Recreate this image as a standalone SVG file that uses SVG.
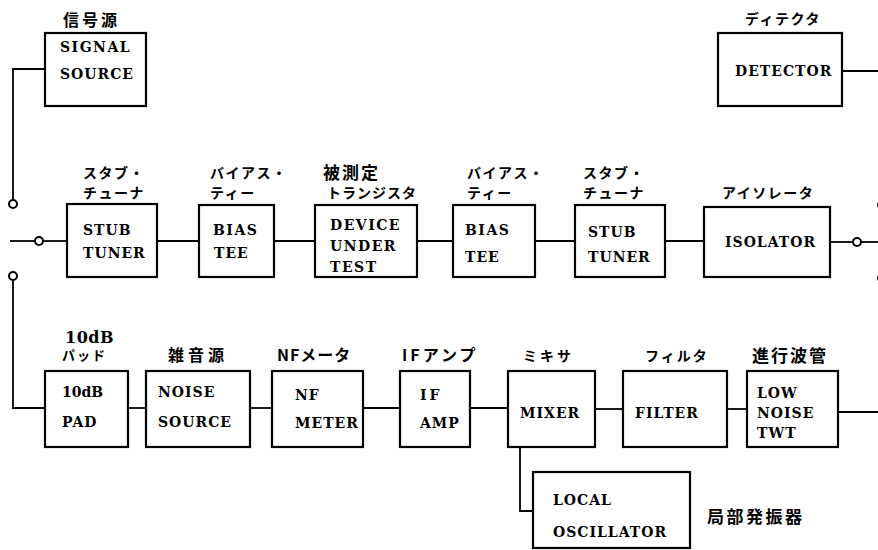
<svg xmlns="http://www.w3.org/2000/svg" width="878" height="550" viewBox="0 0 878 550">
<style>
.box{fill:#fff;stroke:#000;stroke-width:2.2}
.ln{fill:none;stroke:#000;stroke-width:1.8}
.sw{fill:#fff;stroke:#000;stroke-width:2}
.t{font-family:"DejaVu Serif","Liberation Serif",serif;font-weight:bold;font-size:14px;letter-spacing:1px;fill:#000}
.j{font-family:"Noto Sans CJK JP","Noto Sans",sans-serif;font-weight:bold;font-size:14px;letter-spacing:1.5px;fill:#000}
.jb{font-family:"Noto Sans CJK JP","Noto Sans",sans-serif;font-weight:bold;font-size:17px;letter-spacing:2px;fill:#000}
</style>
<rect width="878" height="550" fill="#fff"/>
<g id="connectors">
<polyline class="ln" points="45,69 13,69 13,200"/>
<line class="ln" x1="10" y1="241" x2="35" y2="241"/>
<line class="ln" x1="43" y1="241" x2="67" y2="241"/>
<line class="ln" x1="157" y1="241" x2="199" y2="241"/>
<line class="ln" x1="274" y1="241" x2="315" y2="241"/>
<line class="ln" x1="417" y1="241" x2="453" y2="241"/>
<line class="ln" x1="535" y1="241" x2="575" y2="241"/>
<line class="ln" x1="665" y1="241" x2="704" y2="241"/>
<line class="ln" x1="830" y1="242" x2="853" y2="242"/>
<line class="ln" x1="861" y1="242" x2="878" y2="242"/>
<line class="ln" x1="842" y1="71" x2="878" y2="71"/>
<polyline class="ln" points="13,280 13,408 45,408"/>
<line class="ln" x1="128" y1="408" x2="146" y2="408"/>
<line class="ln" x1="250" y1="408" x2="272" y2="408"/>
<line class="ln" x1="363" y1="408" x2="400" y2="408"/>
<line class="ln" x1="470" y1="408" x2="508" y2="408"/>
<line class="ln" x1="595" y1="409" x2="623" y2="409"/>
<line class="ln" x1="727" y1="409" x2="747" y2="409"/>
<line class="ln" x1="838" y1="412" x2="878" y2="412"/>
<polyline class="ln" points="520,447 520,511 533,511"/>
<circle class="sw" cx="13" cy="204" r="4"/>
<circle class="sw" cx="39" cy="241" r="4"/>
<circle class="sw" cx="13" cy="276" r="4"/>
<circle class="sw" cx="857" cy="242" r="4"/>
<circle class="sw" cx="882" cy="205" r="4"/>
<circle class="sw" cx="882" cy="278" r="4"/>
</g>
<g id="signal_source">
<rect class="box" x="45" y="33" width="101" height="73"/>
<text class="j" x="63" y="26" style="font-size:16px;letter-spacing:3px">信号源</text>
<text class="t" x="60" y="52" style="letter-spacing:1.5px">SIGNAL</text>
<text class="t" x="60" y="79">SOURCE</text>
</g>
<g id="detector">
<rect class="box" x="718" y="33" width="124" height="73"/>
<text class="j" x="745" y="24">ディテクタ</text>
<text class="t" x="735" y="76">DETECTOR</text>
</g>
<g id="stub_tuner_1">
<rect class="box" x="67" y="204" width="90" height="73"/>
<text class="j" x="83" y="178">スタブ・</text>
<text class="j" x="83" y="198">チューナ</text>
<text class="t" x="83" y="235">STUB</text>
<text class="t" x="83" y="258">TUNER</text>
</g>
<g id="bias_tee_1">
<rect class="box" x="199" y="205" width="75" height="72"/>
<text class="j" x="210" y="178">バイアス・</text>
<text class="j" x="210" y="198">ティー</text>
<text class="t" x="213" y="235" style="letter-spacing:1.5px">BIAS</text>
<text class="t" x="214" y="258">TEE</text>
</g>
<g id="dut">
<rect class="box" x="315" y="205" width="102" height="72"/>
<text class="jb" x="323" y="179">被測定</text>
<text class="j" x="327" y="198" style="letter-spacing:1px">トランジスタ</text>
<text class="t" x="330" y="230" style="letter-spacing:1.5px">DEVICE</text>
<text class="t" x="330" y="251" style="letter-spacing:1.5px">UNDER</text>
<text class="t" x="330" y="272" style="letter-spacing:1.5px">TEST</text>
</g>
<g id="bias_tee_2">
<rect class="box" x="453" y="205" width="82" height="72"/>
<text class="j" x="467" y="178">バイアス・</text>
<text class="j" x="467" y="198">ティー</text>
<text class="t" x="465" y="235" style="letter-spacing:1.5px">BIAS</text>
<text class="t" x="465" y="262">TEE</text>
</g>
<g id="stub_tuner_2">
<rect class="box" x="575" y="205" width="90" height="72"/>
<text class="j" x="583" y="178">スタブ・</text>
<text class="j" x="583" y="198">チューナ</text>
<text class="t" x="588" y="237">STUB</text>
<text class="t" x="588" y="262">TUNER</text>
</g>
<g id="isolator">
<rect class="box" x="704" y="207" width="126" height="70"/>
<text class="j" x="722" y="198">アイソレータ</text>
<text class="t" x="725" y="247">ISOLATOR</text>
</g>
<g id="pad">
<rect class="box" x="45" y="371" width="83" height="76"/>
<text class="t" x="65" y="343" style="font-size:16px;letter-spacing:0.5px">10dB</text>
<text class="j" x="62" y="360" style="font-size:13px;letter-spacing:2px">パッド</text>
<text class="t" x="62" y="397" style="letter-spacing:0">10dB</text>
<text class="t" x="62" y="427">PAD</text>
</g>
<g id="noise_source">
<rect class="box" x="146" y="371" width="104" height="76"/>
<text class="j" x="168" y="361" style="font-size:16px;letter-spacing:4px">雑音源</text>
<text class="t" x="158" y="397">NOISE</text>
<text class="t" x="158" y="427">SOURCE</text>
</g>
<g id="nf_meter">
<rect class="box" x="272" y="371" width="91" height="76"/>
<text class="j" x="277" y="361" style="font-size:16px;letter-spacing:1px">NFメータ</text>
<text class="t" x="295" y="400">NF</text>
<text class="t" x="295" y="428">METER</text>
</g>
<g id="if_amp">
<rect class="box" x="400" y="371" width="70" height="76"/>
<text class="j" x="402" y="361" style="font-size:16px;letter-spacing:3px">IFアンプ</text>
<text class="t" x="420" y="400" style="letter-spacing:3px">IF</text>
<text class="t" x="420" y="428">AMP</text>
</g>
<g id="mixer">
<rect class="box" x="508" y="371" width="87" height="76"/>
<text class="j" x="523" y="361" style="letter-spacing:3px">ミキサ</text>
<text class="t" x="520" y="418">MIXER</text>
</g>
<g id="filter">
<rect class="box" x="623" y="371" width="104" height="76"/>
<text class="j" x="645" y="361" style="letter-spacing:2px">フィルタ</text>
<text class="t" x="635" y="418">FILTER</text>
</g>
<g id="twt">
<rect class="box" x="747" y="371" width="91" height="76"/>
<text class="jb" x="752" y="362">進行波管</text>
<text class="t" x="757" y="398">LOW</text>
<text class="t" x="757" y="418">NOISE</text>
<text class="t" x="757" y="438">TWT</text>
</g>
<g id="local_oscillator">
<rect class="box" x="533" y="472" width="157" height="76"/>
<text class="t" x="553" y="505">LOCAL</text>
<text class="t" x="553" y="537">OSCILLATOR</text>
<text class="jb" x="707" y="523" style="letter-spacing:2.5px">局部発振器</text>
</g>
</svg>
